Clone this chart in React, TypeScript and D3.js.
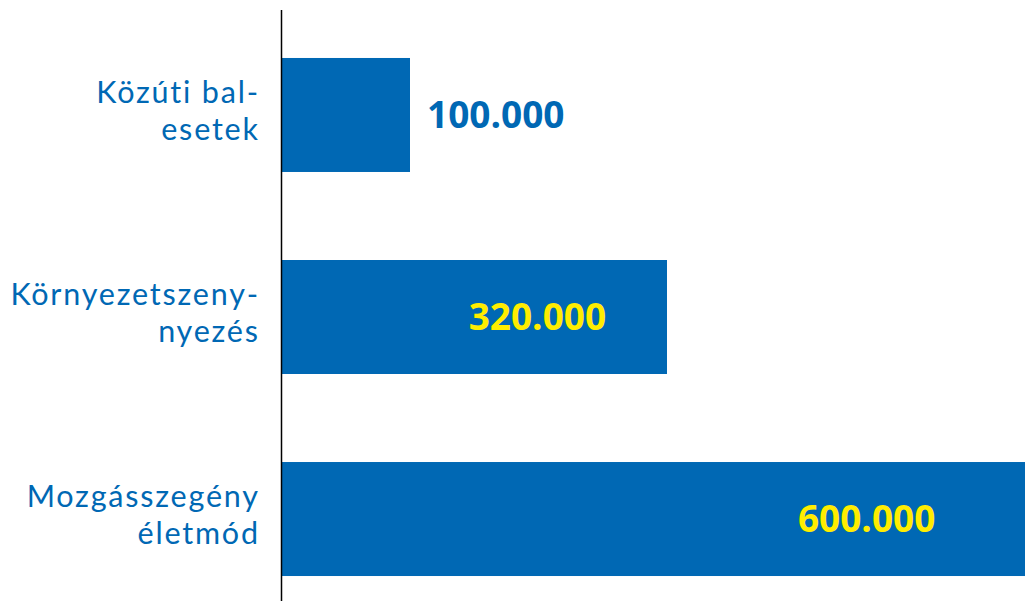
import React from "react";
import * as d3 from "d3";

const categories: string[][] = [
  ["Közúti bal-", "esetek"],
  ["Környezetszeny-", "nyezés"],
  ["Mozgásszegény", "életmód"],
];
const values: number[] = [100000, 320000, 600000];
const valueLabels: string[] = ["100.000", "320.000", "600.000"];

const W = 1025;
const H = 601;
const BLUE = "#0068b4";
const YELLOW = "#ffed00";
const FONT = "'Open Sans', 'Noto Sans', sans-serif";
const LABEL_FONT = "Lato, 'Open Sans', sans-serif";
const LS = 1.8;

export default function App() {
  const x0 = 282;
  // the infographic's bar lengths are not strictly proportional; a polylinear scale reproduces them
  const x = d3
    .scaleLinear()
    .domain([0, 100000, 320000, 600000])
    .range([x0, 410, 667, 1058]);
  const y = d3
    .scaleBand<number>()
    .domain(d3.range(values.length))
    .range([17, 617])
    .paddingInner(0.43)
    .paddingOuter(0.2);
  const bh = 114;
  return (
    <svg
      width={W}
      height={H}
      style={{ position: "absolute", left: 0, top: 0, background: "#fff" }}
      fontFamily={FONT}
    >
      {values.map((v, i) => {
        const cy = (y(i) as number) + y.bandwidth() / 2;
        const xe = x(v);
        const inside = i > 0;
        const lx = inside ? x0 + (xe - x0) * 0.842 : xe + 17;
        return (
          <g key={i}>
            <rect x={x0} y={cy - bh / 2} width={xe - x0} height={bh} fill={BLUE} />
            <text
              x={258 + LS}
              y={cy - 12}
              textAnchor="end"
              fontSize={30.5}
              fontFamily={LABEL_FONT}
              letterSpacing={LS}
              fill={BLUE}
            >
              {categories[i][0]}
            </text>
            <text
              x={258 + LS}
              y={cy + 25}
              textAnchor="end"
              fontSize={30.5}
              fontFamily={LABEL_FONT}
              letterSpacing={LS}
              fill={BLUE}
            >
              {categories[i][1]}
            </text>
            <text
              x={lx}
              y={cy}
              dy="0.36em"
              textAnchor={inside ? "end" : "start"}
              fontSize={37}
              fontWeight={700}
              fill={inside ? YELLOW : BLUE}
            >
              {valueLabels[i]}
            </text>
          </g>
        );
      })}
      <line x1={x0 - 0.5} x2={x0 - 0.5} y1={10} y2={H} stroke="#000" strokeWidth={1.5} />
    </svg>
  );
}
